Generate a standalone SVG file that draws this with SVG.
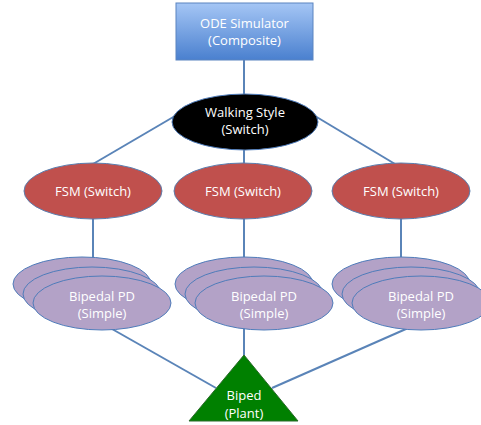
<svg xmlns="http://www.w3.org/2000/svg" width="481" height="425" viewBox="0 0 481 425">
<defs>
<linearGradient id="blueGrad" x1="0" y1="0" x2="0" y2="1">
<stop offset="0" stop-color="#a5c6f5"/>
<stop offset="1" stop-color="#4a80cf"/>
</linearGradient>
</defs>
<style>
.conn{stroke:#5a84b8;stroke-width:2;fill:none}
.fsm{fill:#c0504d;stroke:#5a7fb0;stroke-width:1}
.pd{fill:#b3a2c7;stroke:#4f7cba;stroke-width:1}
.t{font-family:"Open Sans","Liberation Sans",sans-serif;font-size:13px;fill:#ffffff;text-anchor:middle}
</style>
<rect width="481" height="425" fill="#ffffff"/>
<g id="connectors">
<line class="conn" x1="244" y1="60" x2="244" y2="96"/>
<line class="conn" x1="175" y1="116" x2="93" y2="164"/>
<line class="conn" x1="315" y1="116" x2="395" y2="164"/>
<line class="conn" x1="244" y1="148" x2="244" y2="165"/>
<line class="conn" x1="93" y1="218" x2="93" y2="260"/>
<line class="conn" x1="244" y1="218" x2="244" y2="260"/>
<line class="conn" x1="401" y1="218" x2="401" y2="260"/>
<line class="conn" x1="105" y1="325" x2="216" y2="388"/>
<line class="conn" x1="244" y1="325" x2="244" y2="356"/>
<line class="conn" x1="415" y1="325" x2="272" y2="388"/>
</g>
<g id="ode">
<rect x="176" y="3" width="137" height="57" fill="url(#blueGrad)" stroke="#5a84c0" stroke-width="1"/>
<text class="t" x="244.5" y="28">ODE Simulator</text>
<text class="t" x="244.5" y="45">(Composite)</text>
</g>
<g id="walking">
<ellipse cx="245" cy="122" rx="73" ry="28" fill="#000000" stroke="#4f7cba" stroke-width="1"/>
<text class="t" x="245" y="117">Walking Style</text>
<text class="t" x="245" y="134">(Switch)</text>
</g>
<g id="fsm1">
<ellipse class="fsm" cx="93" cy="191" rx="69" ry="28"/>
<text class="t" x="93" y="196">FSM (Switch)</text>
</g>
<g id="fsm2">
<ellipse class="fsm" cx="243" cy="191" rx="69" ry="28"/>
<text class="t" x="243" y="196">FSM (Switch)</text>
</g>
<g id="fsm3">
<ellipse class="fsm" cx="401" cy="191" rx="69" ry="28"/>
<text class="t" x="401" y="196">FSM (Switch)</text>
</g>
<g id="pd1">
<ellipse class="pd" cx="82" cy="284" rx="69" ry="27"/>
<ellipse class="pd" cx="92" cy="294" rx="69" ry="27"/>
<ellipse class="pd" cx="102" cy="303" rx="69" ry="27"/>
<text class="t" x="102" y="301">Bipedal PD</text>
<text class="t" x="102" y="318">(Simple)</text>
</g>
<g id="pd2">
<ellipse class="pd" cx="244" cy="284" rx="69" ry="27"/>
<ellipse class="pd" cx="254" cy="294" rx="69" ry="27"/>
<ellipse class="pd" cx="264" cy="303" rx="69" ry="27"/>
<text class="t" x="264" y="301">Bipedal PD</text>
<text class="t" x="264" y="318">(Simple)</text>
</g>
<g id="pd3">
<ellipse class="pd" cx="401" cy="284" rx="69" ry="27"/>
<ellipse class="pd" cx="411" cy="294" rx="69" ry="27"/>
<ellipse class="pd" cx="421" cy="303" rx="69" ry="27"/>
<text class="t" x="421" y="301">Bipedal PD</text>
<text class="t" x="421" y="318">(Simple)</text>
</g>
<g id="biped">
<polygon points="244,355 298,421 189,421" fill="#008000" stroke="#2a6a2a" stroke-width="1"/>
<text class="t" x="244" y="400">Biped</text>
<text class="t" x="244" y="418">(Plant)</text>
</g>
</svg>
